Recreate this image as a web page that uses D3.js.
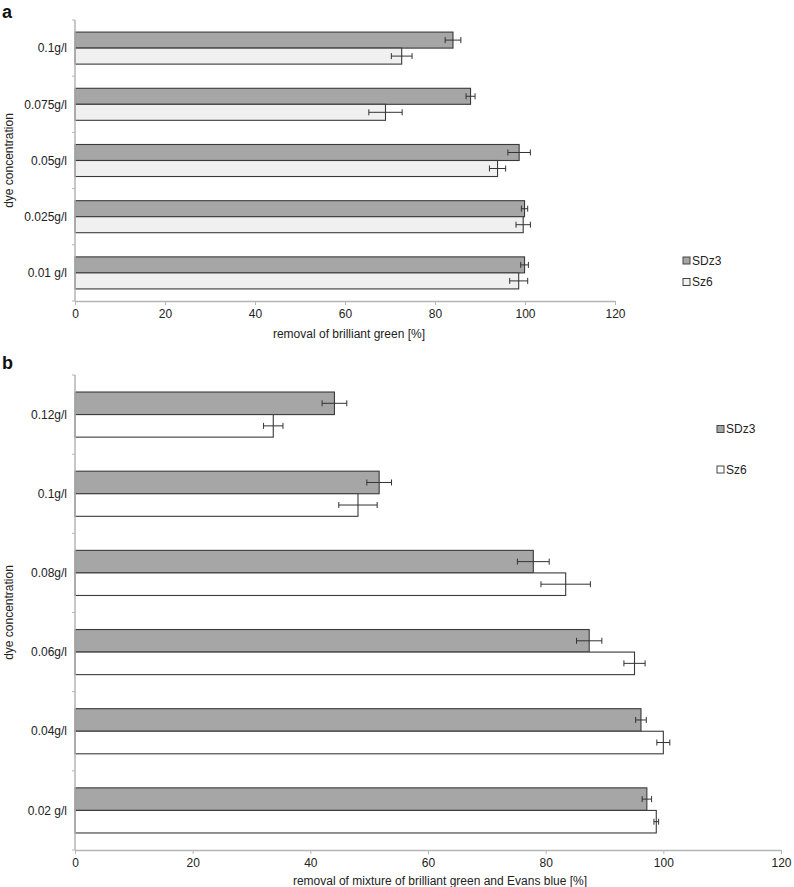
<!DOCTYPE html>
<html><head><meta charset="utf-8">
<script src="https://cdn.jsdelivr.net/npm/d3@7"></script>
<style>body{margin:0;background:#fff}svg{display:block;font-family:"Liberation Sans",Arial,sans-serif}</style>
</head><body><svg id="c" width="794" height="887"></svg>
<script>
const seriesNames = ["SDz3", "Sz6"];
const xTicks = [0, 20, 40, 60, 80, 100, 120];

const catsA = ["0.1g/l", "0.075g/l", "0.05g/l", "0.025g/l", "0.01 g/l"];
const sdz3A = [84.0, 87.9, 98.7, 99.9, 99.9];
const sdz3AErr = [1.75, 1.0, 2.5, 0.7, 0.85];
const sz6A = [72.6, 69.0, 93.9, 99.6, 98.6];
const sz6AErr = [2.3, 3.7, 1.8, 1.6, 2.0];

const catsB = ["0.12g/l", "0.1g/l", "0.08g/l", "0.06g/l", "0.04g/l", "0.02 g/l"];
const sdz3B = [44.1, 51.7, 77.9, 87.4, 96.2, 97.2];
const sdz3BErr = [2.1, 2.1, 2.7, 2.15, 0.9, 0.8];
const sz6B = [33.7, 48.1, 83.4, 95.1, 100.0, 98.8];
const sz6BErr = [1.65, 3.26, 4.2, 1.8, 1.1, 0.4];

const FS = 12;
const svg = d3.select("#c");

function panel(o) {
  const g = svg.append("g");
  const x = d3.scaleLinear().domain([0, 120]).range([o.x0, o.x1]);
  const y = d3.scaleBand().domain(o.cats).range([o.y0, o.y1]).padding(0);
  const sub = d3.scaleBand().domain(seriesNames).range([0, y.bandwidth()]).paddingInner(0).paddingOuter(0.755);
  const fills = {SDz3: "#a6a6a6", Sz6: o.lightFill};
  const rows = [];
  o.cats.forEach((c, i) => {
    rows.push({c, s: "SDz3", v: o.v1[i], e: o.e1[i]});
    rows.push({c, s: "Sz6", v: o.v2[i], e: o.e2[i]});
  });

  // bars
  g.selectAll("rect.bar").data(rows).join("rect")
    .attr("x", x(0)).attr("y", d => y(d.c) + sub(d.s))
    .attr("width", d => x(d.v) - x(0)).attr("height", sub.bandwidth())
    .attr("fill", d => fills[d.s]).attr("stroke", "#3a3a3a").attr("stroke-width", 1.1);

  // error bars
  const eb = g.selectAll("g.eb").data(rows).join("g");
  const cy = d => y(d.c) + sub(d.s) + sub.bandwidth() / 2;
  eb.append("line").attr("x1", d => x(d.v - d.e)).attr("x2", d => x(d.v + d.e))
    .attr("y1", cy).attr("y2", cy).attr("stroke", "#333").attr("stroke-width", 1);
  [-1, 1].forEach(sg => {
    eb.append("line").attr("x1", d => x(d.v + sg * d.e)).attr("x2", d => x(d.v + sg * d.e))
      .attr("y1", d => cy(d) - 3).attr("y2", d => cy(d) + 3).attr("stroke", "#333").attr("stroke-width", 1);
  });

  // x axis
  const xa = g.append("g").attr("transform", `translate(0,${o.y1})`)
    .call(d3.axisBottom(x).tickValues(xTicks).tickSize(4).tickSizeOuter(0).tickPadding(4));
  xa.select(".domain").attr("stroke", "#b5b5b5").attr("stroke-width", 1.5);
  xa.selectAll(".tick line").attr("stroke", "#b5b5b5");
  xa.selectAll(".tick text").attr("font-size", FS).attr("fill", "#222").attr("font-family", "Liberation Sans, Arial, sans-serif");

  // y axis line & boundary ticks
  g.append("line").attr("x1", x(0)).attr("x2", x(0)).attr("y1", o.y0).attr("y2", o.y1)
    .attr("stroke", "#b5b5b5").attr("stroke-width", 1.5);
  const bounds = o.cats.map(c => y(c)).concat([o.y1]);
  g.selectAll("line.yt").data(bounds).join("line")
    .attr("x1", x(0) - 3).attr("x2", x(0)).attr("y1", d => d).attr("y2", d => d)
    .attr("stroke", "#b5b5b5").attr("stroke-width", 1);
  g.selectAll("text.yl").data(o.cats).join("text")
    .attr("x", x(0) - 8).attr("y", d => y(d) + y.bandwidth() / 2).attr("dy", "0.35em")
    .attr("text-anchor", "end").attr("font-size", FS).attr("fill", "#222").text(d => d);

  // axis titles
  g.append("text").attr("x", o.xLabelX).attr("y", o.xLabelY).attr("text-anchor", "middle")
    .attr("font-size", FS).attr("fill", "#222").text(o.xLabel);
  g.append("text").attr("transform", `translate(13,${(o.y0 + o.y1) / 2}) rotate(-90)`)
    .attr("text-anchor", "middle").attr("font-size", FS).attr("fill", "#222").text("dye concentration");

  // panel letter
  g.append("text").attr("x", 2).attr("y", o.letterY).attr("font-size", 18).attr("font-weight", "bold")
    .attr("fill", "#111").text(o.letter);

  // legend
  seriesNames.forEach((s, i) => {
    const ly = o.legY[i];
    g.append("rect").attr("x", o.legX).attr("y", ly - 3.5).attr("width", 7).attr("height", 7)
      .attr("fill", fills[s]).attr("stroke", "#444").attr("stroke-width", 1);
    g.append("text").attr("x", o.legX + 9).attr("y", ly).attr("dy", "0.35em")
      .attr("font-size", FS).attr("fill", "#222").text(s);
  });
}

panel({
  cats: catsA, v1: sdz3A, e1: sdz3AErr, v2: sz6A, e2: sz6AErr,
  x0: 75, x1: 615, y0: 20, y1: 301, lightFill: "#f0f0f0",
  xLabel: "removal of brilliant green [%]", xLabelX: 349, xLabelY: 338,
  letter: "a", letterY: 18, legX: 683, legY: [260.5, 282]
});
panel({
  cats: catsB, v1: sdz3B, e1: sdz3BErr, v2: sz6B, e2: sz6BErr,
  x0: 75, x1: 781, y0: 375, y1: 850, lightFill: "#ffffff",
  xLabel: "removal of mixture of brilliant green and Evans blue [%]", xLabelX: 440, xLabelY: 885,
  letter: "b", letterY: 369, legX: 717, legY: [429, 469.5]
});
</script></body></html>
